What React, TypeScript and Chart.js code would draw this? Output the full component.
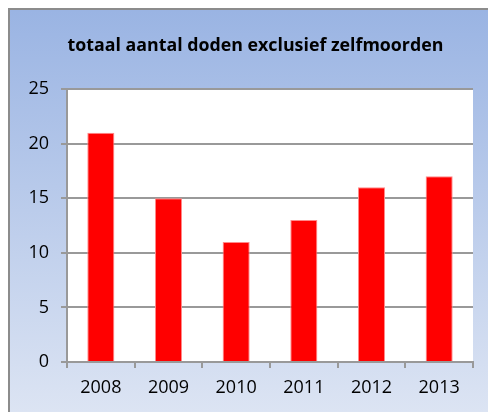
import React, { useEffect, useRef } from "react";
import { Chart, registerables } from "chart.js";

Chart.register(...registerables);

const years = ["2008", "2009", "2010", "2011", "2012", "2013"];
const deaths = [21, 15, 11, 13, 16, 17];
const titleText = "totaal aantal doden exclusief zelfmoorden";

export default function App() {
  const ref = useRef<HTMLCanvasElement | null>(null);

  useEffect(() => {
    if (!ref.current) return;
    const plotBg = {
      id: "plotBg",
      beforeDraw(chart: any) {
        const { ctx, chartArea } = chart;
        ctx.save();
        ctx.fillStyle = "#ffffff";
        ctx.fillRect(chartArea.left, chartArea.top, chartArea.right - chartArea.left, chartArea.bottom - chartArea.top);
        ctx.restore();
      },
      afterDraw(chart: any) {
        const { ctx } = chart;
        ctx.save();
        ctx.fillStyle = "#000000";
        ctx.font = "bold 17.8px 'Open Sans'";
        ctx.textAlign = "center";
        ctx.textBaseline = "alphabetic";
        ctx.fillText(titleText, 245.5, 41);
        ctx.restore();
      },
    };
    const chart = new Chart(ref.current, {
      type: "bar",
      data: {
        labels: years,
        datasets: [
          {
            data: deaths,
            backgroundColor: "#ff0000",
            borderColor: "#ff8a8a",
            borderWidth: 1,
            barPercentage: 0.4,
            categoryPercentage: 1,
          },
        ],
      },
      options: {
        animation: false,
        responsive: false,
        layout: { padding: { top: 79, right: 23, left: 0, bottom: 0 } },
        plugins: { legend: { display: false }, title: { display: false }, tooltip: { enabled: false } },
        scales: {
          x: {
            afterFit: (s: any) => {
              s.height = 50;
            },
            grid: { drawOnChartArea: false, drawTicks: true, tickLength: 6, color: "#999999", lineWidth: 2, offset: true },
            border: { color: "#999999", width: 2 },
            ticks: { color: "#000000", font: { family: "'Open Sans'", size: 18 }, padding: 9 },
          },
          y: {
            min: 0,
            max: 25,
            afterFit: (s: any) => {
              s.width = 57;
            },
            grid: { color: "#999999", lineWidth: 2, tickLength: 6, drawTicks: true },
            border: { color: "#999999", width: 2 },
            ticks: { stepSize: 5, color: "#000000", font: { family: "'Open Sans'", size: 18 }, padding: 12 },
          },
        },
      },
      plugins: [plotBg],
    });
    return () => chart.destroy();
  }, []);

  return (
    <div
      style={{
        width: 486,
        height: 402,
        borderTop: "2px solid #8c8c8c",
        borderLeft: "2px solid #8c8c8c",
        background: "linear-gradient(to bottom, #9ab4e3 0%, #dce4f3 100%)",
        overflow: "hidden",
        position: "relative",
      }}
    >
      <canvas ref={ref} width={486} height={402} style={{ display: "block" }} />
    </div>
  );
}
